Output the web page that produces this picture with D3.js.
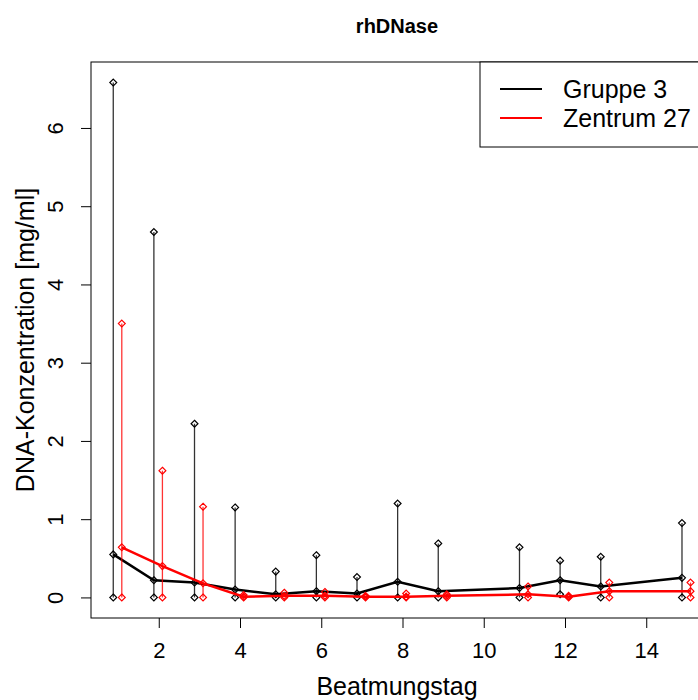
<!DOCTYPE html>
<html>
<head>
<meta charset="utf-8">
<script src="https://cdn.jsdelivr.net/npm/d3@7"></script>
<style>
    body { margin: 0; background: #fff; }
    text { font-family: "Liberation Sans", Arial, sans-serif; }
</style>
</head>
<body>
<script>

// Beatmungstag (days with data)
const days = [1, 2, 3, 4, 5, 6, 7, 8, 9, 11, 12, 13, 15];

// Gruppe 3: min / median / max
const gruppeMin = [0, 0, 0, 0, 0, 0, 0, 0, 0, 0, 0.04, 0, 0];
const gruppeMed = [0.55, 0.22, 0.19, 0.10, 0.04, 0.08, 0.05, 0.20, 0.08, 0.12, 0.22, 0.14, 0.25];
const gruppeMax = [6.58, 4.67, 2.22, 1.15, 0.33, 0.54, 0.26, 1.20, 0.69, 0.64, 0.47, 0.52, 0.95];

// Zentrum 27: min / median / max
const zentrumMin = [0, 0, 0, 0, 0, 0, 0, 0, 0, 0, 0, 0, 0];
const zentrumMed = [0.64, 0.40, 0.18, 0.01, 0.02, 0.02, 0.01, 0.01, 0.02, 0.04, 0.01, 0.08, 0.08];
const zentrumMax = [3.50, 1.62, 1.16, 0.03, 0.06, 0.07, 0.02, 0.05, 0.04, 0.14, 0.02, 0.19, 0.19];

const xTicks = [2, 4, 6, 8, 10, 12, 14];
const yTicks = [0, 1, 2, 3, 4, 5, 6];

const seriesNames = ["Gruppe 3", "Zentrum 27"];
const seriesColors = ["#000000", "#ff0000"];

const width = 698, height = 700;
const plot = {left: 91, right: 714, top: 62, bottom: 618};

let svg = d3.select("body").append("svg")
    .attr("width", width)
    .attr("height", height);

let x = d3.scaleLinear().domain([0.332, 15.668]).range([plot.left, plot.right]);
let y = d3.scaleLinear().domain([-0.263, 6.843]).range([plot.bottom, plot.top]);

//title
svg.append("text")
    .attr("x", 397)
    .attr("y", 33)
    .attr("text-anchor", "middle")
    .attr("font-size", 20)
    .attr("font-weight", "bold")
    .text("rhDNase");

//x axis
let xAxis = svg.append("g")
    .attr("transform", "translate(0," + plot.bottom + ")")
    .call(d3.axisBottom(x).tickValues(xTicks).tickSize(10).tickPadding(14).tickFormat(d3.format("d")));
xAxis.select(".domain").remove();
xAxis.selectAll("text").attr("font-size", 22).attr("fill", "#000");

//y axis, labels rotated like R
let yAxis = svg.append("g")
    .attr("transform", "translate(" + plot.left + ",0)")
    .call(d3.axisLeft(y).tickValues(yTicks).tickSize(10).tickFormat(d3.format("d")));
yAxis.select(".domain").remove();
yAxis.selectAll("text")
    .attr("font-size", 22)
    .attr("fill", "#000")
    .attr("x", null).attr("dy", null)
    .attr("text-anchor", "middle")
    .attr("transform", "translate(-36,0) rotate(-90)")
    .attr("y", 8);

//axis titles
svg.append("text")
    .attr("x", 397)
    .attr("y", 695)
    .attr("text-anchor", "middle")
    .attr("font-size", 25)
    .text("Beatmungstag");

svg.append("text")
    .attr("transform", "translate(34,340) rotate(-90)")
    .attr("text-anchor", "middle")
    .attr("font-size", 25)
    .text("DNA-Konzentration [mg/ml]");

//plot frame
svg.append("rect")
    .attr("x", plot.left).attr("y", plot.top)
    .attr("width", plot.right - plot.left)
    .attr("height", plot.bottom - plot.top)
    .attr("fill", "none")
    .attr("stroke", "#000")
    .attr("stroke-width", 1);

let groups = [
    {name: seriesNames[0], color: seriesColors[0], shift: -0.12, min: gruppeMin, med: gruppeMed, max: gruppeMax},
    {name: seriesNames[1], color: seriesColors[1], shift: 0.09, min: zentrumMin, med: zentrumMed, max: zentrumMax}
];

let symbol = d3.symbol().type(d3.symbolDiamond2).size(30);

groups.forEach(function(g) {

    let rows = days.map(function(d, i) {
        return {day: d + g.shift, min: g.min[i], med: g.med[i], max: g.max[i]};
    });

    let layer = svg.append("g");

    //whiskers
    layer.selectAll("line")
        .data(rows).enter().append("line")
        .attr("x1", function(d) { return x(d.day); })
        .attr("x2", function(d) { return x(d.day); })
        .attr("y1", function(d) { return y(d.min); })
        .attr("y2", function(d) { return y(d.max); })
        .attr("stroke", g.color)
        .attr("stroke-opacity", 0.8)
        .attr("stroke-width", 1.3);

    //median line
    layer.append("path")
        .datum(rows)
        .attr("d", d3.line().x(function(d) { return x(d.day); }).y(function(d) { return y(d.med); }))
        .attr("fill", "none")
        .attr("stroke", g.color)
        .attr("stroke-width", 2.5);

    //points
    ["min", "med", "max"].forEach(function(key) {
        layer.selectAll("path.p" + key)
            .data(rows).enter().append("path")
            .attr("class", "p" + key)
            .attr("d", symbol)
            .attr("transform", function(d) { return "translate(" + x(d.day) + "," + y(d[key]) + ")"; })
            .attr("fill", "none")
            .attr("stroke", g.color)
            .attr("stroke-width", 1.2);
    });
});

//legend
let legend = svg.append("g");
legend.append("rect")
    .attr("x", 480).attr("y", plot.top)
    .attr("width", 260).attr("height", 85)
    .attr("fill", "#fff")
    .attr("stroke", "#000");

groups.forEach(function(g, i) {
    let ly = 89 + i * 29;
    legend.append("line")
        .attr("x1", 500).attr("x2", 542)
        .attr("y1", ly).attr("y2", ly)
        .attr("stroke", g.color)
        .attr("stroke-width", 2);
    legend.append("text")
        .attr("x", 563).attr("y", ly + 9)
        .attr("font-size", 25)
        .text(g.name);
});

</script>
</body>
</html>
